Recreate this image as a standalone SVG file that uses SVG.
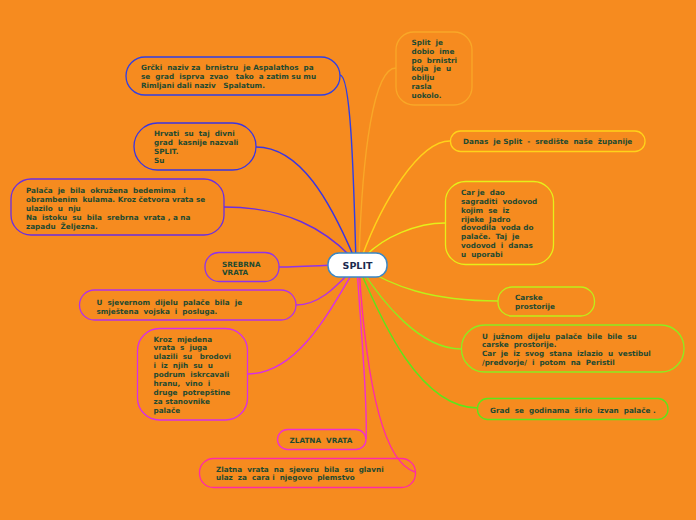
<svg xmlns="http://www.w3.org/2000/svg" width="696" height="520" viewBox="0 0 696 520">
<style>
text{font-family:"DejaVu Sans","Liberation Sans",sans-serif;font-weight:bold;font-size:7.25px;fill:#1f4a30;white-space:pre}
.n{fill:none;stroke-width:1.3}
.c{fill:none;stroke-width:1.4}
</style>
<rect width="696" height="520" fill="#F68B1F"/>
<g id="connectors">
<path class="c" stroke="#2f3fe6" d="M340,75 C352,75 354,200 356,262"/>
<path class="c" stroke="#3a35e2" d="M256,147 C300,147 330,200 356,262"/>
<path class="c" stroke="#6a2ee2" d="M224,207 C285,207 325,228 356,262"/>
<path class="c" stroke="#9033ea" d="M279,267 C300,267 330,265 356,264"/>
<path class="c" stroke="#b430e8" d="M296,305 C322,305 340,282 356,266"/>
<path class="c" stroke="#d82ee6" d="M247,374 C295,374 325,320 356,267"/>
<path class="c" stroke="#f02ed0" d="M366,439 C368,400 360,320 357,267"/>
<path class="c" stroke="#ff2aa8" d="M359,267 C366,380 382,462 415,472"/>
<path class="c" stroke="#f9a828" d="M396,68 C374,68 362,150 359,262"/>
<path class="c" stroke="#ffd21a" d="M450,141 C420,141 382,200 360,262"/>
<path class="c" stroke="#e6ef1a" d="M445,223 C420,223 382,235 360,262"/>
<path class="c" stroke="#bdef1a" d="M498,301 C430,301 392,286 360,266"/>
<path class="c" stroke="#8ced20" d="M461,349 C420,349 382,302 360,267"/>
<path class="c" stroke="#5ce61a" d="M478,408 C420,408 382,322 359,268"/>
</g>
<g id="n-grcki">
<rect class="n" stroke="#2f3fe6" x="126" y="57" width="214" height="38" rx="19"/>
<text x="141" y="69.5">Grčki  naziv za  brnistru  je Aspalathos  pa<tspan x="141" dy="9.3">se  grad  isprva  zvao   tako  a zatim su mu</tspan><tspan x="141" dy="9.3">Rimljani dali naziv   Spalatum.</tspan></text>
</g>
<g id="n-hrvati">
<rect class="n" stroke="#3a35e2" x="134" y="123" width="122" height="47" rx="23.5"/>
<text x="154" y="136">Hrvati  su  taj  divni<tspan x="154" dy="9">grad  kasnije nazvali</tspan><tspan x="154" dy="9">SPLIT.</tspan><tspan x="154" dy="9">Su</tspan></text>
</g>
<g id="n-palaca">
<rect class="n" stroke="#6a2ee2" x="11" y="179" width="213" height="56" rx="20"/>
<text x="26" y="192.5">Palača  je  bila  okružena  bedemima   i<tspan x="26" dy="9">obrambenim  kulama. Kroz četvora vrata se</tspan><tspan x="26" dy="9">ulazilo  u  nju</tspan><tspan x="26" dy="9">Na  istoku  su  bila  srebrna  vrata , a na</tspan><tspan x="26" dy="9">zapadu  Željezna.</tspan></text>
</g>
<g id="n-srebrna">
<rect class="n" stroke="#9033ea" x="205" y="252.5" width="74" height="29" rx="14"/>
<text x="222" y="266.5">SREBRNA<tspan x="222" dy="8.5">VRATA</tspan></text>
</g>
<g id="n-sjevernom">
<rect class="n" stroke="#b430e8" x="79.5" y="290" width="216.5" height="30" rx="15"/>
<text x="96.5" y="304.5">U  sjevernom  dijelu  palače  bila  je<tspan x="96.5" dy="9">smještena  vojska  i  posluga.</tspan></text>
</g>
<g id="n-kroz">
<rect class="n" stroke="#d82ee6" x="137.5" y="328.5" width="110" height="91.5" rx="22"/>
<text x="153.5" y="341.5">Kroz  mjedena<tspan x="153.5" dy="8.9">vrata  s  juga</tspan><tspan x="153.5" dy="8.9">ulazili  su   brodovi</tspan><tspan x="153.5" dy="8.9">i  iz  njih  su  u</tspan><tspan x="153.5" dy="8.9">podrum  iskrcavali</tspan><tspan x="153.5" dy="8.9">hranu,  vino  i</tspan><tspan x="153.5" dy="8.9">druge  potrepštine</tspan><tspan x="153.5" dy="8.9">za stanovnike</tspan><tspan x="153.5" dy="8.9">palače</tspan></text>
</g>
<g id="n-zlatna">
<rect class="n" stroke="#f02ed0" x="277.5" y="429.5" width="88.5" height="20" rx="10"/>
<text x="289.5" y="442.5">ZLATNA  VRATA</text>
</g>
<g id="n-zlatna-sjever">
<rect class="n" stroke="#ff2aa8" x="199.5" y="458.5" width="216" height="29" rx="14"/>
<text x="216" y="471.5">Zlatna  vrata  na  sjeveru  bila  su  glavni<tspan x="216" dy="8.5">ulaz  za  cara i  njegovo  plemstvo</tspan></text>
</g>
<g id="split">
<rect x="328" y="253" width="59" height="24" rx="11" fill="#ffffff" stroke="#3a88c6" stroke-width="1.5"/>
<text x="357.5" y="268.5" text-anchor="middle" style="font-size:9.5px;fill:#1c2a4e">SPLIT</text>
</g>
<g id="n-ime">
<rect class="n" stroke="#f9a828" x="396" y="32" width="76" height="73" rx="18"/>
<text x="411.5" y="45">Split  je<tspan x="411.5" dy="8.8">dobio  ime</tspan><tspan x="411.5" dy="8.8">po  brnistri</tspan><tspan x="411.5" dy="8.8">koja  je  u</tspan><tspan x="411.5" dy="8.8">obilju</tspan><tspan x="411.5" dy="8.8">rasla</tspan><tspan x="411.5" dy="8.8">uokolo.</tspan></text>
</g>
<g id="n-danas">
<rect class="n" stroke="#ffd21a" x="450.5" y="131" width="194.5" height="20.5" rx="10"/>
<text x="463" y="144">Danas  je Split  -  središte  naše  županije</text>
</g>
<g id="n-vodovod">
<rect class="n" stroke="#e6ef1a" x="445.5" y="181.5" width="108" height="83" rx="20"/>
<text x="461" y="194.8">Car je  dao<tspan x="461" dy="8.9">sagraditi  vodovod</tspan><tspan x="461" dy="8.9">kojim  se  iz</tspan><tspan x="461" dy="8.9">rijeke  Jadro</tspan><tspan x="461" dy="8.9">dovodila  voda do</tspan><tspan x="461" dy="8.9">palače.  Taj  je</tspan><tspan x="461" dy="8.9">vodovod  i  danas</tspan><tspan x="461" dy="8.9">u  uporabi</tspan></text>
</g>
<g id="n-carske">
<rect class="n" stroke="#bdef1a" x="498" y="287" width="96.5" height="29" rx="14"/>
<text x="515" y="300">Carske<tspan x="515" dy="9">prostorije</tspan></text>
</g>
<g id="n-juznom">
<rect class="n" stroke="#8ced20" x="461.5" y="325" width="222.5" height="47" rx="23"/>
<text x="482" y="338.5">U  južnom  dijelu  palače  bile  bile  su<tspan x="482" dy="8.9">carske  prostorije.</tspan><tspan x="482" dy="8.9">Car  je  iz  svog  stana  izlazio  u  vestibul</tspan><tspan x="482" dy="8.9">/predvorje/  i  potom  na  Peristil</tspan></text>
</g>
<g id="n-grad">
<rect class="n" stroke="#5ce61a" x="477.5" y="398.5" width="190.5" height="21" rx="10"/>
<text x="490" y="412.5">Grad  se  godinama  širio  izvan  palače .</text>
</g>
</svg>
